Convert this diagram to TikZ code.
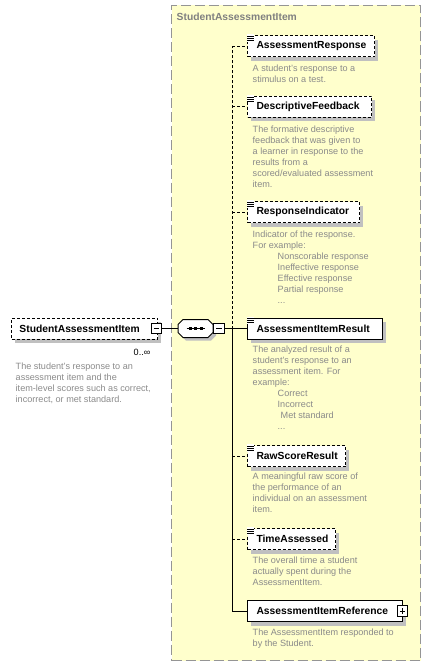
\documentclass[tikz,border=0pt]{standalone}
\usepackage{fontspec}
\setmainfont{Liberation Sans}
\usetikzlibrary{calc}
\definecolor{yel}{HTML}{FFFFCC}
\definecolor{shad}{HTML}{C0C0C0}
\definecolor{desctext}{HTML}{8A8A8A}
\definecolor{ttl}{HTML}{808080}
\definecolor{framecol}{HTML}{959595}
\newcommand\simpleicon[1]{%
  \fill[white] ($(#1.north west)+(-0.5,-1)$) rectangle ($(#1.north west)+(7,6.5)$);
  \foreach \dy in {1,3,5} \draw[line width=0.9pt] ($(#1.north west)+(0,\dy)$) -- ++(6.5,0);
}
\begin{document}
\begin{tikzpicture}[x=1pt,y=-1pt,
  elem/.style={draw=black, line width=1pt, fill=white, font=\fontsize{10.3}{12}\selectfont\bfseries,
    minimum height=21pt, inner xsep=9pt, inner ysep=0pt, anchor=west, align=left},
  opt/.style={elem, dash pattern=on 3pt off 2pt},
  desc/.style={anchor=north west, inner sep=0pt, align=left, text=desctext, font=\fontsize{9.1}{11}\selectfont},
  toggle/.style={draw=black, fill=white, line width=1pt, minimum size=10.5pt, inner sep=0pt},
  minus/.style={toggle, path picture={\draw[line width=1pt] ([xshift=2.5pt]path picture bounding box.west) -- ([xshift=-2.5pt]path picture bounding box.east);}},
  plus/.style={toggle, path picture={\draw[line width=1pt] ([xshift=2.5pt]path picture bounding box.west) -- ([xshift=-2.5pt]path picture bounding box.east) ([yshift=-2.5pt]path picture bounding box.north) -- ([yshift=2.5pt]path picture bounding box.south);}},
  conn/.style={draw=black, line width=1pt},
  optconn/.style={conn, dash pattern=on 3pt off 2pt},
  comp/.style={draw=none, minimum width=35pt, minimum height=18pt, inner sep=0pt},
  compshape/.style={line width=1pt},
  shadowfill/.style={fill=shad},
  group/.style={draw=framecol, line width=1pt, dash pattern=on 10pt off 4pt, fill=yel,
    minimum width=249pt, minimum height=655pt, inner sep=0pt}
]
\useasboundingbox (0,0) rectangle (431,666);
\node[group] (grp) at (296,333) {};
\node[anchor=west, inner sep=0pt, text=ttl, font=\fontsize{10.3}{12}\selectfont\bfseries] (gtitle) at (176.5,17) {StudentAssessmentItem};

% drop shadows (boxes are 21pt high; widths = text width + 2 inner xsep)
\fill[shadowfill] (15,322) rectangle (161,343);
\fill[shadowfill] (251,40) rectangle (378,61);
\fill[shadowfill] (251,100.5) rectangle (375,121.5);
\fill[shadowfill] (251,205.5) rectangle (363,226.5);
\fill[shadowfill] (251,322) rectangle (386,343);
\fill[shadowfill] (251,449.5) rectangle (349,470.5);
\fill[shadowfill] (251,532.5) rectangle (339,553.5);
\fill[shadowfill] (251,604.5) rectangle (406,625.5);
\fill[shadowfill] (186,322.5) -- (211,322.5) -- (216,327.5) -- (216,335.5) -- (211,340.5) -- (186,340.5) -- (181,335.5) -- (181,327.5) -- cycle;

% main element
\node[opt, text width=130pt, inner xsep=8pt] (main) at (11,328.5) {\mbox{StudentAssessmentItem}};
\node[minus] (mainT) at ([xshift=-1.5pt]main.east) {};
\node[anchor=east, inner sep=0pt, font=\fontsize{9.1}{11}\selectfont] (mult) at (150.5,352.5) {0..∞};
\node[desc] (maind) at (15.5,363) {The student's response to an\\assessment item and the\\item-level scores such as correct,\\incorrect, or met standard.};

% sequence compositor
\node[comp] (seq) at (195.5,328.5) {};
\filldraw[compshape, fill=white, draw=black] (183,319.5) -- (208,319.5) -- (213,324.5) -- (213,332.5) -- (208,337.5) -- (183,337.5) -- (178,332.5) -- (178,324.5) -- cycle;
\node[minus, anchor=west] (seqT) at (seq.east) {};
\draw[line width=1pt] ([xshift=-9pt]seq.center) -- ([xshift=9pt]seq.center);
\foreach \dx in {-5.5,0,5.5} \fill ([xshift=\dx pt]seq.center) +(-1.5,-1.5) rectangle +(1.5,1.5);
\coordinate (J) at (232,328.5);

% children
\node[opt, text width=109pt] (AR) at (247,46.5) {\mbox{AssessmentResponse}};
\node[desc] (ARd) at (252.5,65) {A student's response to a\\stimulus on a test.};
\node[opt, text width=106pt] (DF) at (247,107) {\mbox{DescriptiveFeedback}};
\node[desc] (DFd) at (252.5,126) {The formative descriptive\\feedback that was given to\\a learner in response to the\\results from a\\scored/evaluated assessment\\item.};
\node[opt, text width=94pt] (RI) at (247,212) {\mbox{ResponseIndicator}};
\node[desc] (RId) at (252.5,231) {Indicator of the response.\\For example:\\\hspace*{25pt}Nonscorable response\\\hspace*{25pt}Ineffective response\\\hspace*{25pt}Effective response\\\hspace*{25pt}Partial response\\\hspace*{25pt}...};
\node[elem, text width=117pt] (AIR) at (247,328.5) {\mbox{AssessmentItemResult}};
\node[desc] (AIRd) at (252.5,346) {The analyzed result of a\\student's response to an\\assessment item. For\\example:\\\hspace*{25pt}Correct\\\hspace*{25pt}Incorrect\\\hspace*{28pt}Met standard\\\hspace*{25pt}...};
\node[opt, text width=80pt] (RSR) at (247,456) {\mbox{RawScoreResult}};
\node[desc] (RSRd) at (252.5,473) {A meaningful raw score of\\the performance of an\\individual on an assessment\\item.};
\node[opt, text width=70pt] (TA) at (247,539) {\mbox{TimeAssessed}};
\node[desc] (TAd) at (252.5,557) {The overall time a student\\actually spent during the\\AssessmentItem.};
\node[elem, text width=137pt] (AIRef) at (247,611) {\mbox{AssessmentItemReference}};
\node[plus] (AIRefT) at ([xshift=-0.5pt]AIRef.east) {};
\node[desc] (AIRefd) at (252.5,629) {The AssessmentItem responded to\\by the Student.};

% connectors
\draw[conn] (mainT.east) -- (seq.west);
\draw[conn] (seqT.east) -- (J);
\draw[optconn] (J) -- (J |- AR.west);
\draw[conn] (J) -- (J |- AIRef.west);
\foreach \n in {AR,DF,RI,RSR,TA} \draw[optconn] (J |- \n.west) -- (\n.west);
\draw[conn] (J) -- (AIR.west);
\draw[conn] (J |- AIRef.west) -- (AIRef.west);

% type icons
\simpleicon{AR}
\simpleicon{DF}
\simpleicon{RI}
\simpleicon{AIR}
\simpleicon{RSR}
\simpleicon{TA}
\end{tikzpicture}
\end{document}
